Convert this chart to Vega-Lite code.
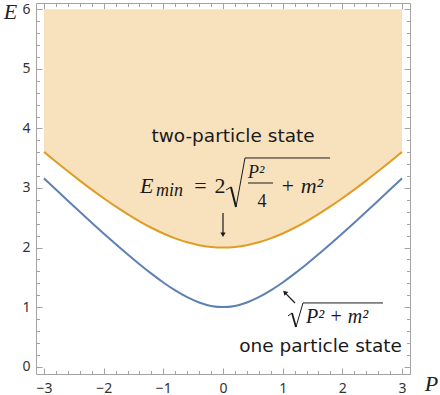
{
  "$schema": "https://vega.github.io/schema/vega-lite/v6.json",
  "width": 374,
  "height": 371,
  "autosize": {"type": "none"},
  "padding": {"left": 36, "top": 3, "right": 30, "bottom": 21},
  "background": "white",
  "config": {
    "view": {"stroke": "#a3a3a3", "strokeWidth": 1},
    "axis": {"grid": false, "domain": false, "tickColor": "#a3a3a3", "tickWidth": 1, "labelFont": "Noto Sans", "labelFontSize": 14, "labelColor": "#333333"}
  },
  "datasets": {
    "curves": [
      {"P": -3.0, "E1": 3.1623, "E2": 3.6056},
      {"P": -2.8, "E1": 2.9732, "E2": 3.4409},
      {"P": -2.6, "E1": 2.7857, "E2": 3.2802},
      {"P": -2.4, "E1": 2.6, "E2": 3.1241},
      {"P": -2.2, "E1": 2.4166, "E2": 2.9732},
      {"P": -2.0, "E1": 2.2361, "E2": 2.8284},
      {"P": -1.8, "E1": 2.0591, "E2": 2.6907},
      {"P": -1.6, "E1": 1.8868, "E2": 2.5612},
      {"P": -1.4, "E1": 1.7205, "E2": 2.4413},
      {"P": -1.2, "E1": 1.562, "E2": 2.3324},
      {"P": -1.0, "E1": 1.4142, "E2": 2.2361},
      {"P": -0.8, "E1": 1.2806, "E2": 2.1541},
      {"P": -0.6, "E1": 1.1662, "E2": 2.0881},
      {"P": -0.4, "E1": 1.077, "E2": 2.0396},
      {"P": -0.2, "E1": 1.0198, "E2": 2.01},
      {"P": 0.0, "E1": 1.0, "E2": 2.0},
      {"P": 0.2, "E1": 1.0198, "E2": 2.01},
      {"P": 0.4, "E1": 1.077, "E2": 2.0396},
      {"P": 0.6, "E1": 1.1662, "E2": 2.0881},
      {"P": 0.8, "E1": 1.2806, "E2": 2.1541},
      {"P": 1.0, "E1": 1.4142, "E2": 2.2361},
      {"P": 1.2, "E1": 1.562, "E2": 2.3324},
      {"P": 1.4, "E1": 1.7205, "E2": 2.4413},
      {"P": 1.6, "E1": 1.8868, "E2": 2.5612},
      {"P": 1.8, "E1": 2.0591, "E2": 2.6907},
      {"P": 2.0, "E1": 2.2361, "E2": 2.8284},
      {"P": 2.2, "E1": 2.4166, "E2": 2.9732},
      {"P": 2.4, "E1": 2.6, "E2": 3.1241},
      {"P": 2.6, "E1": 2.7857, "E2": 3.2802},
      {"P": 2.8, "E1": 2.9732, "E2": 3.4409},
      {"P": 3.0, "E1": 3.1623, "E2": 3.6056}
    ],
    "one": [{}]
  },
  "data": {"name": "one"},
  "resolve": {"axis": {"x": "independent", "y": "independent"}},
  "layer": [
    {
      "data": {"name": "curves"},
      "mark": {"type": "area", "color": "#F8E2BE", "interpolate": "monotone"},
      "encoding": {
        "x": {"field": "P", "type": "quantitative", "scale": {"domain": [-3.134, 3.134], "nice": false, "zero": false},
              "axis": {"orient": "bottom", "values": [-3, -2, -1, 0, 1, 2, 3], "tickSize": -6, "labelPadding": 13, "title": "P", "titleFont": "Liberation Serif", "titleFontStyle": "italic", "titleFontWeight": "normal", "titleFontSize": 22, "titleColor": "#222222", "titleAnchor": "start", "titleAlign": "center", "titleBaseline": "alphabetic", "titleX": 395, "titleY": 16}},
        "y": {"field": "E2", "type": "quantitative", "scale": {"domain": [-0.123, 6.106], "nice": false, "zero": false},
              "axis": {"orient": "left", "values": [0, 1, 2, 3, 4, 5, 6], "tickSize": -6, "labelPadding": 12, "title": "E", "titleAngle": 0, "titleFont": "Liberation Serif", "titleFontStyle": "italic", "titleFontWeight": "normal", "titleFontSize": 22, "titleColor": "#222222", "titleAlign": "center", "titleBaseline": "alphabetic", "titleX": -26, "titleY": 15}},
        "y2": {"datum": 6}
      }
    },
    {
      "data": {"name": "curves"},
      "mark": {"type": "line", "color": "#E19C24", "strokeWidth": 2, "interpolate": "monotone"},
      "encoding": {
        "x": {"field": "P", "type": "quantitative", "axis": {"orient": "bottom", "values": [-3, -2.8, -2.6, -2.4, -2.2, -2, -1.8, -1.6, -1.4, -1.2, -1, -0.8, -0.6, -0.4, -0.2, 0, 0.2, 0.4, 0.6, 0.8, 1, 1.2, 1.4, 1.6, 1.8, 2, 2.2, 2.4, 2.6, 2.8, 3], "tickSize": -3.5, "labels": false, "title": null}},
        "y": {"field": "E2", "type": "quantitative", "axis": {"orient": "left", "values": [0, 0.2, 0.4, 0.6, 0.8, 1, 1.2, 1.4, 1.6, 1.8, 2, 2.2, 2.4, 2.6, 2.8, 3, 3.2, 3.4, 3.6, 3.8, 4, 4.2, 4.4, 4.6, 4.8, 5, 5.2, 5.4, 5.6, 5.8, 6], "tickSize": -3.5, "labels": false, "title": null}}
      }
    },
    {
      "data": {"name": "curves"},
      "mark": {"type": "line", "color": "#5E81B5", "strokeWidth": 2, "interpolate": "monotone"},
      "encoding": {
        "x": {"field": "P", "type": "quantitative", "axis": {"orient": "top", "values": [-3, -2, -1, 0, 1, 2, 3], "tickSize": -6, "labels": false, "title": null}},
        "y": {"field": "E1", "type": "quantitative", "axis": {"orient": "right", "values": [0, 1, 2, 3, 4, 5, 6], "tickSize": -6, "labels": false, "title": null}}
      }
    },
    {
      "data": {"name": "curves"},
      "mark": {"type": "point", "opacity": 0},
      "encoding": {
        "x": {"field": "P", "type": "quantitative", "axis": {"orient": "top", "values": [-3, -2.8, -2.6, -2.4, -2.2, -2, -1.8, -1.6, -1.4, -1.2, -1, -0.8, -0.6, -0.4, -0.2, 0, 0.2, 0.4, 0.6, 0.8, 1, 1.2, 1.4, 1.6, 1.8, 2, 2.2, 2.4, 2.6, 2.8, 3], "tickSize": -3.5, "labels": false, "title": null}},
        "y": {"field": "E1", "type": "quantitative", "axis": {"orient": "right", "values": [0, 0.2, 0.4, 0.6, 0.8, 1, 1.2, 1.4, 1.6, 1.8, 2, 2.2, 2.4, 2.6, 2.8, 3, 3.2, 3.4, 3.6, 3.8, 4, 4.2, 4.4, 4.6, 4.8, 5, 5.2, 5.4, 5.6, 5.8, 6], "tickSize": -3.5, "labels": false, "title": null}}
      }
    },
    {
      "mark": {"type": "text", "font": "DejaVu Sans", "fontSize": 18.5, "align": "center", "baseline": "alphabetic", "color": "#1a1a1a"},
      "encoding": {"x": {"datum": 0.168, "type": "quantitative", "axis": null}, "y": {"datum": 3.778, "type": "quantitative", "axis": null}, "text": {"value": "two-particle state"}}
    },
    {
      "mark": {"type": "text", "font": "DejaVu Sans", "fontSize": 18.5, "align": "right", "baseline": "alphabetic", "color": "#1a1a1a"},
      "encoding": {"x": {"datum": 3.0, "type": "quantitative", "axis": null}, "y": {"datum": 0.247, "type": "quantitative", "axis": null}, "text": {"value": "one particle state"}}
    },
    {
      "mark": {"type": "text", "font": "Liberation Serif", "fontStyle": "italic", "fontSize": 22, "align": "left", "baseline": "alphabetic", "color": "#1a1a1a"},
      "encoding": {"x": {"datum": -1.391, "type": "quantitative", "axis": null}, "y": {"datum": 2.916, "type": "quantitative", "axis": null}, "text": {"value": "E"}}
    },
    {
      "mark": {"type": "text", "font": "Liberation Serif", "fontStyle": "italic", "fontSize": 18, "align": "left", "baseline": "alphabetic", "color": "#1a1a1a"},
      "encoding": {"x": {"datum": -1.123, "type": "quantitative", "axis": null}, "y": {"datum": 2.866, "type": "quantitative", "axis": null}, "text": {"value": "min"}}
    },
    {
      "mark": {"type": "text", "font": "Liberation Serif", "fontSize": 22, "align": "center", "baseline": "alphabetic", "color": "#1a1a1a"},
      "encoding": {"x": {"datum": -0.377, "type": "quantitative", "axis": null}, "y": {"datum": 2.916, "type": "quantitative", "axis": null}, "text": {"value": "="}}
    },
    {
      "mark": {"type": "text", "font": "Liberation Serif", "fontSize": 22, "align": "center", "baseline": "alphabetic", "color": "#1a1a1a"},
      "encoding": {"x": {"datum": -0.05, "type": "quantitative", "axis": null}, "y": {"datum": 2.916, "type": "quantitative", "axis": null}, "text": {"value": "2"}}
    },
    {
      "mark": {"type": "rule", "color": "#1a1a1a", "strokeWidth": 1},
      "encoding": {"x": {"datum": 0.05, "type": "quantitative", "axis": null}, "x2": {"datum": 0.134}, "y": {"datum": 2.967, "type": "quantitative", "axis": null}, "y2": {"datum": 3.017}}
    },
    {
      "mark": {"type": "rule", "color": "#1a1a1a", "strokeWidth": 2},
      "encoding": {"x": {"datum": 0.134, "type": "quantitative", "axis": null}, "x2": {"datum": 0.218}, "y": {"datum": 3.017, "type": "quantitative", "axis": null}, "y2": {"datum": 2.681}}
    },
    {
      "mark": {"type": "rule", "color": "#1a1a1a", "strokeWidth": 1},
      "encoding": {"x": {"datum": 0.218, "type": "quantitative", "axis": null}, "x2": {"datum": 0.369}, "y": {"datum": 2.681, "type": "quantitative", "axis": null}, "y2": {"datum": 3.504}}
    },
    {
      "mark": {"type": "rule", "color": "#1a1a1a", "strokeWidth": 1},
      "encoding": {"x": {"datum": 0.369, "type": "quantitative", "axis": null}, "x2": {"datum": 1.793}, "y": {"datum": 3.504, "type": "quantitative", "axis": null}}
    },
    {
      "mark": {"type": "text", "font": "Liberation Serif", "fontStyle": "italic", "fontSize": 18, "align": "left", "baseline": "alphabetic", "color": "#1a1a1a"},
      "encoding": {"x": {"datum": 0.419, "type": "quantitative", "axis": null}, "y": {"datum": 3.168, "type": "quantitative", "axis": null}, "text": {"value": "P²"}}
    },
    {
      "mark": {"type": "rule", "color": "#1a1a1a", "strokeWidth": 1},
      "encoding": {"x": {"datum": 0.419, "type": "quantitative", "axis": null}, "x2": {"datum": 0.838}, "y": {"datum": 3.084, "type": "quantitative", "axis": null}}
    },
    {
      "mark": {"type": "text", "font": "Liberation Serif", "fontSize": 18, "align": "center", "baseline": "alphabetic", "color": "#1a1a1a"},
      "encoding": {"x": {"datum": 0.654, "type": "quantitative", "axis": null}, "y": {"datum": 2.681, "type": "quantitative", "axis": null}, "text": {"value": "4"}}
    },
    {
      "mark": {"type": "text", "font": "Liberation Serif", "fontStyle": "italic", "fontSize": 22, "align": "left", "baseline": "alphabetic", "color": "#1a1a1a"},
      "encoding": {"x": {"datum": 0.96, "type": "quantitative", "axis": null}, "y": {"datum": 2.916, "type": "quantitative", "axis": null}, "text": {"value": "+ m²"}}
    },
    {
      "mark": {"type": "rule", "color": "#1a1a1a", "strokeWidth": 1},
      "encoding": {"x": {"datum": 1.089, "type": "quantitative", "axis": null}, "x2": {"datum": 1.156}, "y": {"datum": 0.851, "type": "quantitative", "axis": null}, "y2": {"datum": 0.901}}
    },
    {
      "mark": {"type": "rule", "color": "#1a1a1a", "strokeWidth": 1.8},
      "encoding": {"x": {"datum": 1.156, "type": "quantitative", "axis": null}, "x2": {"datum": 1.223}, "y": {"datum": 0.901, "type": "quantitative", "axis": null}, "y2": {"datum": 0.666}}
    },
    {
      "mark": {"type": "rule", "color": "#1a1a1a", "strokeWidth": 1},
      "encoding": {"x": {"datum": 1.223, "type": "quantitative", "axis": null}, "x2": {"datum": 1.341}, "y": {"datum": 0.666, "type": "quantitative", "axis": null}, "y2": {"datum": 1.07}}
    },
    {
      "mark": {"type": "rule", "color": "#1a1a1a", "strokeWidth": 1},
      "encoding": {"x": {"datum": 1.341, "type": "quantitative", "axis": null}, "x2": {"datum": 2.681}, "y": {"datum": 1.07, "type": "quantitative", "axis": null}}
    },
    {
      "mark": {"type": "text", "font": "Liberation Serif", "fontStyle": "italic", "fontSize": 20, "align": "left", "baseline": "alphabetic", "color": "#1a1a1a"},
      "encoding": {"x": {"datum": 1.391, "type": "quantitative", "axis": null}, "y": {"datum": 0.734, "type": "quantitative", "axis": null}, "text": {"value": "P² + m²"}}
    },
    {
      "mark": {"type": "rule", "color": "#1a1a1a", "strokeWidth": 1.2},
      "encoding": {"x": {"datum": 0, "type": "quantitative", "axis": null}, "y": {"datum": 2.581, "type": "quantitative", "axis": null}, "y2": {"datum": 2.24}}
    },
    {
      "mark": {"type": "point", "shape": "triangle-down", "filled": true, "color": "#1a1a1a", "size": 28, "opacity": 1},
      "encoding": {"x": {"datum": 0, "type": "quantitative", "axis": null}, "y": {"datum": 2.215, "type": "quantitative", "axis": null}}
    },
    {
      "mark": {"type": "rule", "color": "#1a1a1a", "strokeWidth": 1.2},
      "encoding": {"x": {"datum": 1.207, "type": "quantitative", "axis": null}, "x2": {"datum": 1.05}, "y": {"datum": 1.069, "type": "quantitative", "axis": null}, "y2": {"datum": 1.23}}
    },
    {
      "mark": {"type": "point", "shape": "triangle-up", "filled": true, "color": "#1a1a1a", "size": 28, "opacity": 1, "angle": -45},
      "encoding": {"x": {"datum": 1.035, "type": "quantitative", "axis": null}, "y": {"datum": 1.248, "type": "quantitative", "axis": null}}
    }
  ]
}
